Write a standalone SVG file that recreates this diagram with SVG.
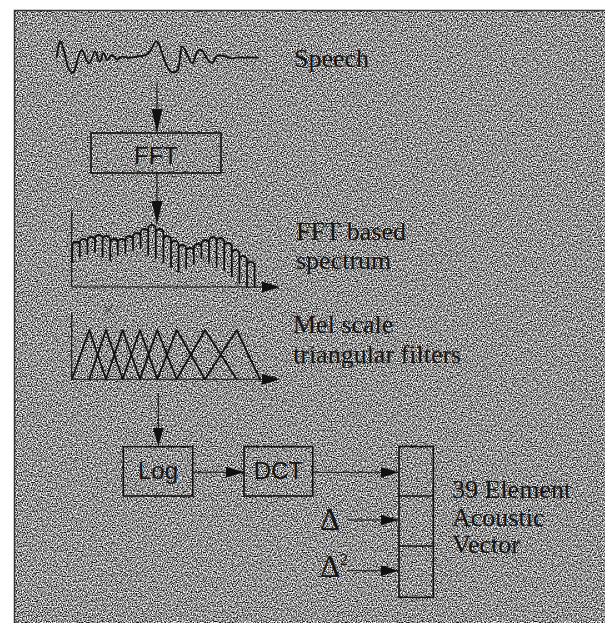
<svg xmlns="http://www.w3.org/2000/svg" width="605" height="623" viewBox="0 0 605 623">
<defs>
<filter id="grain" x="0" y="0" width="100%" height="100%" color-interpolation-filters="sRGB">
<feTurbulence type="fractalNoise" baseFrequency="0.8" numOctaves="1" seed="7"/>
<feColorMatrix type="matrix" values="2.5 0 0 0 -0.68 2.5 0 0 0 -0.68 2.5 0 0 0 -0.68 0 0 0 0 1"/>
</filter>
<marker id="ah" markerUnits="userSpaceOnUse" markerWidth="18" markerHeight="12" refX="18" refY="6" orient="auto">
<path d="M0,0.5 L18,6 L0,11.5 z" fill="#111"/>
</marker>
<marker id="ahl" markerUnits="userSpaceOnUse" markerWidth="23" markerHeight="12" refX="23" refY="6" orient="auto">
<path d="M0,0.5 L23,6 L0,11.5 z" fill="#111"/>
</marker>
<style>
.box{fill:none;stroke:#111;stroke-width:1.6}
.wire{fill:none;stroke:#111;stroke-width:1.1}
.curve{fill:none;stroke:#111;stroke-width:1.8;stroke-linejoin:round;stroke-linecap:round}
.ser{font-family:"Liberation Serif","Times New Roman",serif;font-size:26px;fill:#161616}
.sans{font-family:"Liberation Sans",Arial,sans-serif;font-size:24px;fill:#161616;text-anchor:middle}
</style>
</defs>
<rect x="0" y="0" width="605" height="623" fill="#fff"/>
<rect x="14" y="10" width="591" height="613" fill="#999"/>
<rect x="14" y="10" width="591" height="613" filter="url(#grain)"/>
<path d="M14.5,623 V10.5 H605" fill="none" stroke="#333" stroke-width="1.5"/>

<g id="speech">
<path class="curve" d="M56.7,57 C58,48 59,41 60.5,41.5 C63,42 66,62 68,67 C70,72 72,74 74,72 C76,68 79,50 81.7,50 C84,50 86,63 89,63 C92,63 93,51.7 95,51.7 C97,51.7 98,61.7 100,61.7 C101.5,61.7 102,53 103.5,53 C105,53 105.5,60 107,60 C109,60 110,55 112,55 C114,55 115,59.3 117,59.3 C119,59.3 120,56.7 122,56.7 C125,56.7 126,57.7 129,57.7 C132,57.7 133,57 136,57 C139,57 141,56 144,55.5 C148,55 150,52 152,48 C154,44 155,41 156.7,41.5 C159,42 161,50 163,56 C165,62 167,68 170,71 C173,73.5 176,72 178,70 C180,66 180,47 182,46.7 C184,46.5 186,52 188.3,57 C190,61 191,63.3 192.5,63.3 C194,63.3 195,56 197,52 C199,49 200.5,49.5 202,50.5 C204,52 205,56 207,58.5 C209,61 210,63.3 212,63.3 C214,63.3 215,57 217,56 C219,55 220,55 222,55.5 C225,56 228,58.3 232,58.3 C235,58.3 236,57.3 238,57.3 C241,57.3 243,58 246,57.5 C250,57 253,58 258,57.5"/>
<text class="ser" x="294" y="67">Speech</text>
</g>

<g id="fft">
<rect class="box" x="91" y="133" width="130" height="40"/>
<text class="sans" x="156" y="164">FFT</text>
</g>

<g id="spectrum">
<path class="wire" d="M71.7,210.7 V287 H262" stroke-width="1.6"/>
<path d="M262,281.5 L280,287 L262,292.5 z" fill="#111"/>
<path class="curve" stroke-width="1.5" d="M72.2,262 V246 A3.8 4 0 0 1 79.8,246 V257 V243 A3.8 4 0 0 1 87.4,243 V254 V241 A3.8 4 0 0 1 95,241 V252 V239 A3.8 4 0 0 1 102.6,239 V257 V240 A3.8 4 0 0 1 110.2,240 V260 V243 A3.8 4 0 0 1 117.8,243 V255 V243 A3.8 4 0 0 1 125.4,243 V253 V240 A3.8 4 0 0 1 133,240 V250 V237 A3.8 4 0 0 1 140.6,237 V248 V233 A3.8 4 0 0 1 148.2,233 V255 V229 A3.8 4 0 0 1 155.8,229 V258 V233 A3.8 4 0 0 1 163.4,233 V262 V240 A3.8 4 0 0 1 171,240 V267 V245 A3.8 4 0 0 1 178.6,245 V272 V249 A3.8 4 0 0 1 186.2,249 V268 V252 A3.8 4 0 0 1 193.8,252 V264 V248 A3.8 4 0 0 1 201.4,248 V258 V244 A3.8 4 0 0 1 209,244 V262 V241 A3.8 4 0 0 1 216.6,241 V266 V242 A3.8 4 0 0 1 224.2,242 V270 V247 A3.8 4 0 0 1 231.8,247 V276 V254 A3.8 4 0 0 1 239.4,254 V283 V260 A3.8 4 0 0 1 247,260 V287 V266 A3.8 4 0 0 1 254.6,266 V287"/>
<text class="ser" x="296" y="240">FFT based</text>
<text class="ser" x="296" y="269">spectrum</text>
</g>

<g id="filters">
<path class="wire" d="M71.7,312 V379.3 H262" stroke-width="1.6"/>
<path d="M262,373.8 L280,379.3 L262,384.8 z" fill="#111"/>
<path class="curve" stroke-width="1.5" d="M72,379.3 L89.3,330 L106,379.3 M89.3,379.3 L106,330 L122.7,379.3 M106,379.3 L122.7,330 L140,379.3 M122.7,379.3 L140,330 L157.3,379.3 M140,379.3 L157.3,330 L176.7,379.3 M157.3,379.3 L176.7,330 L205,379.3 M176.7,379.3 L205,330 L236.7,379.3 M205,379.3 L236.7,330 L260,379.3"/>
<path d="M104,305 L113,315 M113,305 L104,315" stroke="#222" stroke-width="0.9" fill="none"/>
<text class="ser" x="293" y="333">Mel scale</text>
<text class="ser" x="293" y="363">triangular filters</text>
</g>

<g id="log">
<rect class="box" x="123.3" y="446.7" width="69.4" height="49.3"/>
<text class="sans" x="158" y="479">Log</text>
</g>

<g id="dct">
<rect class="box" x="244" y="446.7" width="68.7" height="49.3"/>
<text class="sans" x="278.5" y="479">DCT</text>
</g>

<g id="vector">
<rect class="box" x="399" y="446.5" width="34.3" height="150.8"/>
<line class="box" x1="399" y1="496" x2="433.3" y2="496"/>
<line class="box" x1="399" y1="546" x2="433.3" y2="546"/>
<text class="ser" x="452" y="498">39 Element</text>
<text class="ser" x="452" y="526">Acoustic</text>
<text class="ser" x="452" y="553">Vector</text>
</g>

<g id="delta">
<text class="ser" x="320" y="530" style="font-size:31px">Δ</text>
</g>

<g id="delta2">
<text class="ser" x="320" y="576.7" style="font-size:31px">Δ</text>
<text class="ser" x="340" y="565" style="font-size:16px">2</text>
</g>

<g id="connectors">
<line class="wire" x1="157" y1="83" x2="157" y2="132" marker-end="url(#ahl)"/>
<line class="wire" x1="157" y1="173" x2="157" y2="224" marker-end="url(#ahl)"/>
<line class="wire" x1="158.3" y1="393" x2="158.3" y2="446" marker-end="url(#ah)"/>
<line class="wire" x1="193" y1="472.3" x2="244" y2="472.3" marker-end="url(#ah)"/>
<line class="wire" x1="313" y1="472.3" x2="398.5" y2="472.3" marker-end="url(#ah)"/>
<line class="wire" x1="348" y1="520" x2="398.5" y2="520" marker-end="url(#ah)"/>
<line class="wire" x1="348" y1="570.7" x2="398.5" y2="570.7" marker-end="url(#ah)"/>
</g>
</svg>
